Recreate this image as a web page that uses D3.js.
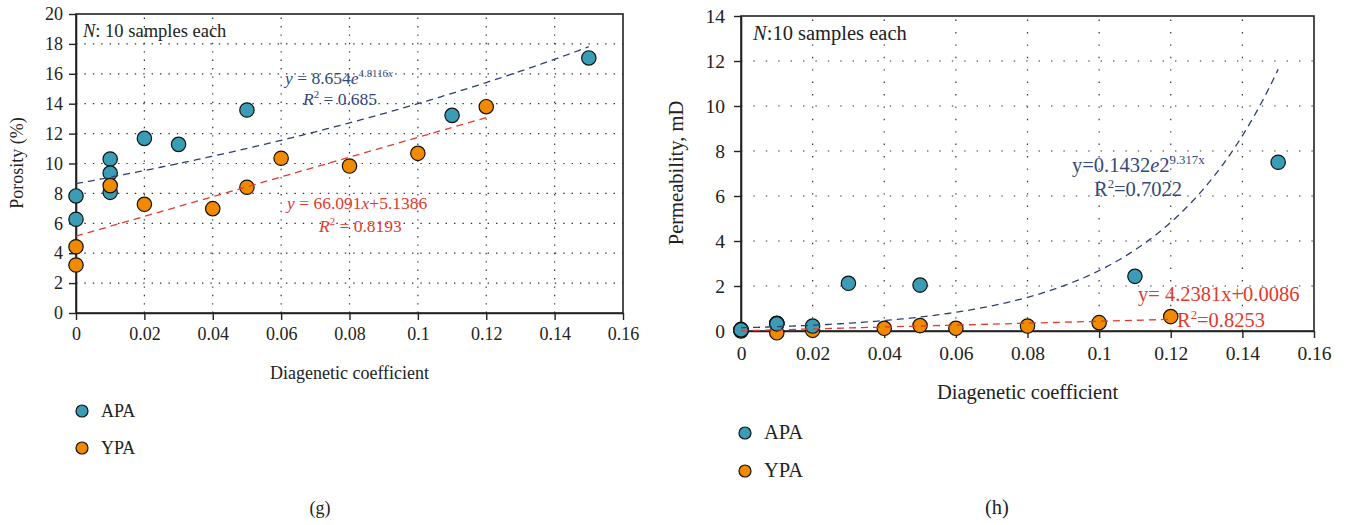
<!DOCTYPE html>
<html>
<head>
<meta charset="utf-8">
<script src="https://cdn.jsdelivr.net/npm/d3@7/dist/d3.min.js"></script>
<style>
  html, body { margin: 0; padding: 0; background: #fff; }
  svg { display: block; }
  text { font-family: "Liberation Serif", "Times New Roman", serif; fill: #222; }
</style>
</head>
<body>
<svg id="chart" width="1345" height="525"></svg>
<script>
// ---- Data: diagenetic coefficient vs porosity (g) and permeability (h) ----
const apaCoef   = [0, 0, 0.01, 0.01, 0.01, 0.02, 0.03, 0.05, 0.11, 0.15];
const apaPoro   = [7.83, 6.27, 10.3, 9.36, 8.07, 11.68, 11.28, 13.58, 13.22, 17.06];
const apaPerm   = [0.07, 0.05, 0.34, 0.33, 0.32, 0.22, 2.12, 2.04, 2.43, 7.5];

const ypaCoef   = [0, 0, 0.01, 0.02, 0.04, 0.05, 0.06, 0.08, 0.10, 0.12];
const ypaPoro   = [4.43, 3.21, 8.52, 7.27, 6.98, 8.41, 10.35, 9.83, 10.68, 13.8];
const ypaPerm   = [0.02, 0.0, -0.08, 0.03, 0.12, 0.24, 0.12, 0.22, 0.37, 0.64];

const xTicks     = [0, 0.02, 0.04, 0.06, 0.08, 0.1, 0.12, 0.14, 0.16];
const poroTicks  = [0, 2, 4, 6, 8, 10, 12, 14, 16, 18, 20];
const permTicks  = [0, 2, 4, 6, 8, 10, 12, 14];
const seriesNames = ["APA", "YPA"];

// Fitted trend lines
const poroExp = { a: 8.654, b: 4.8116, xMax: 0.15 };      // y = a e^(b x)
const poroLin = { m: 66.091, c: 5.1386, xMax: 0.12 };     // y = m x + c
const permExp = { a: 0.1432, b: 29.317, xMax: 0.15 };     // y = a e^(b x)
const permLin = { m: 4.2381, c: 0.0086, xMax: 0.12 };

const COL = {
  apa: "#3b9cb5", ypa: "#f28a00",
  navy: "#2d3f70", red: "#e33a2e",
  navyText: "#34487a", redText: "#e2392e",
  grid: "#333"
};

const svg = d3.select("#chart");
const fmt = d3.format("~g");

// Build rich text from segments: {t, it, sup}
function richText(g, x, y, segs, opts) {
  const t = g.append("text").attr("x", x).attr("y", y)
    .attr("font-size", opts.size).style("fill", opts.color);
  let raised = false;
  segs.forEach(s => {
    const sp = t.append("tspan").text(s.t);
    if (s.it) sp.attr("font-style", "italic");
    if (s.sup && !raised) { sp.attr("dy", -opts.size * 0.38); raised = true; }
    else if (!s.sup && raised) { sp.attr("dy", opts.size * 0.38); raised = false; }
    if (s.sup) sp.attr("font-size", opts.size * 0.62);
  });
  return t;
}

function panel(cfg) {
  const g = svg.append("g");
  const x = d3.scaleLinear().domain([0, 0.16]).range([cfg.x0, cfg.x1]);
  const y = d3.scaleLinear().domain([0, cfg.yMax]).range([cfg.y0, cfg.y1]);

  // dotted grid
  const grid = g.append("g").attr("stroke", COL.grid).attr("stroke-width", 1.2)
    .attr("stroke-dasharray", cfg.gridDash);
  grid.selectAll("line.h").data(cfg.yTicks.filter(v => v > 0 && v < cfg.yMax))
    .join("line").attr("x1", cfg.x0).attr("x2", cfg.x1)
    .attr("y1", d => y(d)).attr("y2", d => y(d));
  grid.selectAll("line.v").data(xTicks.filter(v => v > 0 && v < 0.16))
    .join("line").attr("y1", cfg.y0).attr("y2", cfg.y1)
    .attr("x1", d => x(d)).attr("x2", d => x(d));

  // frame
  g.append("rect").attr("x", cfg.x0).attr("y", cfg.y1)
    .attr("width", cfg.x1 - cfg.x0).attr("height", cfg.y0 - cfg.y1)
    .attr("fill", "none").attr("stroke", "#222").attr("stroke-width", 1.6);

  // axes
  const ax = g.append("g").attr("transform", `translate(0,${cfg.y0})`)
    .call(d3.axisBottom(x).tickValues(xTicks).tickFormat(fmt)
      .tickSize(7).tickSizeOuter(0).tickPadding(cfg.xPad));
  const ay = g.append("g").attr("transform", `translate(${cfg.x0},0)`)
    .call(d3.axisLeft(y).tickValues(cfg.yTicks).tickFormat(fmt)
      .tickSize(7).tickSizeOuter(0).tickPadding(cfg.yPad));
  [ax, ay].forEach(a => {
    a.select(".domain").attr("stroke", "#222").attr("stroke-width", 1.6);
    a.selectAll(".tick line").attr("stroke", "#222").attr("stroke-width", 1.4);
    a.selectAll(".tick text").attr("font-family", null).attr("font-size", cfg.tickSize)
      .style("fill", "#222");
  });

  // axis titles
  g.append("text").attr("x", (cfg.x0 + cfg.x1) / 2).attr("y", cfg.xTitleY)
    .attr("text-anchor", "middle").attr("font-size", cfg.titleSize).text("Diagenetic coefficient");
  g.append("text").attr("transform", `translate(${cfg.yTitleX},${cfg.yTitleCY}) rotate(-90)`)
    .attr("text-anchor", "middle").attr("font-size", cfg.titleSize).text(cfg.yTitle);

  const plot = g.append("g");
  const circle = (sel, col) => sel.attr("r", 7.2).attr("fill", col)
    .attr("stroke", "#111").attr("stroke-width", 1.2);

  const apa = apaCoef.map((c, i) => [c, cfg.apaY[i]]);
  const ypa = ypaCoef.map((c, i) => [c, cfg.ypaY[i]]);
  const first = cfg.ypaOnTop ? [apa, COL.apa] : [ypa, COL.ypa];
  const second = cfg.ypaOnTop ? [ypa, COL.ypa] : [apa, COL.apa];
  [first, second].forEach(([pts, col]) => {
    plot.append("g").selectAll("circle").data(pts).join("circle")
      .attr("cx", d => x(d[0])).attr("cy", d => y(d[1])).call(circle, col);
  });

  // trend lines
  const line = d3.line().x(d => x(d[0])).y(d => y(d[1]));
  const expPts = d3.range(0, 201).map(i => {
    const xv = cfg.exp.xMax * i / 200;
    return [xv, cfg.exp.a * Math.exp(cfg.exp.b * xv)];
  });
  const linPts = [[0, cfg.lin.c], [cfg.lin.xMax, cfg.lin.m * cfg.lin.xMax + cfg.lin.c]];
  plot.append("path").attr("d", line(expPts)).attr("fill", "none")
    .attr("stroke", COL.navy).attr("stroke-width", 1.3).attr("stroke-dasharray", "7,5");
  plot.append("path").attr("d", line(linPts)).attr("fill", "none")
    .attr("stroke", COL.red).attr("stroke-width", 1.3).attr("stroke-dasharray", "7,5");

  // legend
  seriesNames.forEach((name, i) => {
    const ly = cfg.legY + i * cfg.legGap;
    g.append("circle").attr("cx", cfg.legX).attr("cy", ly).attr("r", 6)
      .attr("fill", i === 0 ? COL.apa : COL.ypa).attr("stroke", "#111").attr("stroke-width", 1.2);
    g.append("text").attr("x", cfg.legX + 19).attr("y", ly + 6)
      .attr("font-size", cfg.titleSize).text(name);
  });

  // panel tag
  g.append("text").attr("x", cfg.tagX).attr("y", 514).attr("text-anchor", "middle")
    .attr("font-size", cfg.titleSize).text(cfg.tag);

  return g;
}

// (g) Porosity
const gPanel = panel({
  x0: 76, x1: 623, y0: 313, y1: 14, yMax: 20, yTicks: poroTicks,
  apaY: apaPoro, ypaY: ypaPoro, exp: poroExp, lin: poroLin, ypaOnTop: true,
  gridDash: "1.4,7", tickSize: 18, titleSize: 18, xPad: 7, yPad: 6,
  xTitleY: 379, yTitleX: 23, yTitleCY: 163, yTitle: "Porosity (%)",
  legX: 82, legY: 411, legGap: 37, tag: "(g)", tagX: 320
});
richText(gPanel, 83, 37, [{t: "N", it: true}, {t: ": 10 samples each"}], {size: 18.5, color: "#222"});
richText(gPanel, 285, 84, [{t: "y", it: true}, {t: " = 8.654"}, {t: "e", it: true},
  {t: "4.8116", sup: true}, {t: "x", it: true, sup: true}], {size: 17.5, color: COL.navyText});
richText(gPanel, 303, 105, [{t: "R", it: true}, {t: "2", sup: true}, {t: " = 0.685"}],
  {size: 17.5, color: COL.navyText});
richText(gPanel, 287, 209, [{t: "y", it: true}, {t: " = 66.091"}, {t: "x", it: true},
  {t: "+5.1386"}], {size: 17.5, color: COL.redText});
richText(gPanel, 319, 232, [{t: "R", it: true}, {t: "2", sup: true}, {t: " = 0.8193"}],
  {size: 17.5, color: COL.redText});

// (h) Permeability
const hPanel = panel({
  x0: 741, x1: 1314, y0: 331, y1: 16, yMax: 14, yTicks: permTicks,
  apaY: apaPerm, ypaY: ypaPerm, exp: permExp, lin: permLin, ypaOnTop: false,
  gridDash: "1.4,11", tickSize: 19.5, titleSize: 20.5, xPad: 8, yPad: 9,
  xTitleY: 399, yTitleX: 683, yTitleCY: 173, yTitle: "Permeability, mD",
  legX: 745, legY: 433, legGap: 38, tag: "(h)", tagX: 997
});
richText(hPanel, 753, 40, [{t: "N", it: true}, {t: ":10 samples each"}], {size: 20.5, color: "#222"});
richText(hPanel, 1072, 172, [{t: "y=0.1432"}, {t: "e", it: true}, {t: "2"},
  {t: "9.317x", sup: true}], {size: 20.5, color: COL.navyText});
richText(hPanel, 1094, 196, [{t: "R"}, {t: "2", sup: true}, {t: "=0.7022"}],
  {size: 20.5, color: COL.navyText});
richText(hPanel, 1138, 301, [{t: "y= 4.2381x+0.0086"}], {size: 20.5, color: COL.redText});
richText(hPanel, 1177, 327, [{t: "R"}, {t: "2", sup: true}, {t: "=0.8253"}],
  {size: 20.5, color: COL.redText});
</script>
</body>
</html>
